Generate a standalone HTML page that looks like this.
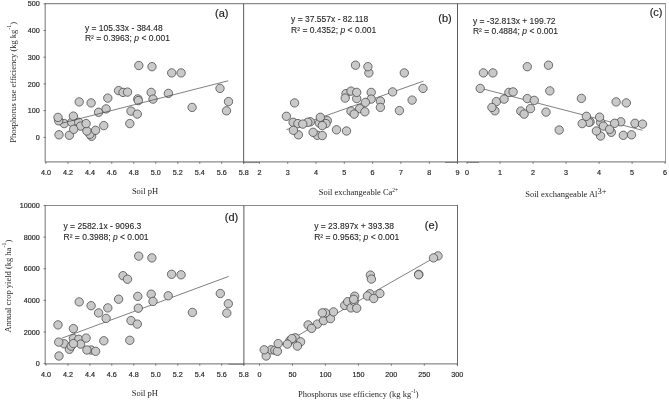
<!DOCTYPE html>
<html><head><meta charset="utf-8"><title>Figure</title>
<style>html,body{margin:0;padding:0;background:#fff;}svg{display:block;transform:translateZ(0);will-change:transform;}text{font-family:"Liberation Sans",sans-serif;fill:#262626;}.s{font-family:"Liberation Serif",serif;font-size:8.5px;}.t{font-size:7.2px;stroke:#262626;stroke-width:0.18px;}.q{font-size:8.5px;stroke:#262626;stroke-width:0.1px;}.p{font-size:11px;stroke:#262626;stroke-width:0.2px;}.pt circle{fill:#c9c9c9;stroke:#3a3a3a;stroke-width:0.7;}</style></head><body>
<svg width="669" height="401" viewBox="0 0 669 401">
<rect x="0" y="0" width="669" height="401" fill="#ffffff"/>
<g class="pt"><circle cx="59.0" cy="134.8" r="4.2"/><circle cx="69.4" cy="135.3" r="4.2"/><circle cx="79.2" cy="101.9" r="4.2"/><circle cx="91.1" cy="102.9" r="4.2"/><circle cx="98.6" cy="112.3" r="4.2"/><circle cx="103.8" cy="125.6" r="4.2"/><circle cx="106.1" cy="108.9" r="4.2"/><circle cx="107.8" cy="98.1" r="4.2"/><circle cx="129.8" cy="123.6" r="4.2"/><circle cx="131.0" cy="111.1" r="4.2"/><circle cx="137.3" cy="114.1" r="4.2"/><circle cx="138.8" cy="65.5" r="4.2"/><circle cx="152.0" cy="66.7" r="4.2"/><circle cx="171.7" cy="72.9" r="4.2"/><circle cx="181.1" cy="72.9" r="4.2"/><circle cx="168.4" cy="93.4" r="4.2"/><circle cx="220.0" cy="88.4" r="4.2"/><circle cx="192.1" cy="107.4" r="4.2"/><circle cx="228.5" cy="101.6" r="4.2"/><circle cx="226.5" cy="110.8" r="4.2"/><circle cx="64.2" cy="123.6" r="4.2"/><circle cx="58.7" cy="120.8" r="4.2"/><circle cx="58.0" cy="117.4" r="4.2"/><circle cx="71.7" cy="122.3" r="4.2"/><circle cx="73.4" cy="116.1" r="4.2"/><circle cx="78.7" cy="122.3" r="4.2"/><circle cx="80.6" cy="126.1" r="4.2"/><circle cx="73.7" cy="129.3" r="4.2"/><circle cx="91.6" cy="136.3" r="4.2"/><circle cx="89.9" cy="134.3" r="4.2"/><circle cx="86.9" cy="131.0" r="4.2"/><circle cx="86.1" cy="123.6" r="4.2"/><circle cx="95.6" cy="130.3" r="4.2"/><circle cx="118.6" cy="90.6" r="4.2"/><circle cx="123.0" cy="92.4" r="4.2"/><circle cx="127.5" cy="92.1" r="4.2"/><circle cx="137.8" cy="98.9" r="4.2"/><circle cx="138.3" cy="100.6" r="4.2"/><circle cx="151.2" cy="92.4" r="4.2"/><circle cx="153.0" cy="99.1" r="4.2"/></g>
<line x1="61.5" y1="123.3" x2="228.2" y2="80.8" stroke="#3c3c3c" stroke-width="0.65"/>
<line x1="286.4" y1="129.7" x2="423.5" y2="81.1" stroke="#3c3c3c" stroke-width="0.65"/>
<g class="pt"><circle cx="286.4" cy="116.3" r="4.2"/><circle cx="294.6" cy="102.9" r="4.2"/><circle cx="336.5" cy="129.8" r="4.2"/><circle cx="346.5" cy="131.0" r="4.2"/><circle cx="355.5" cy="65.2" r="4.2"/><circle cx="404.3" cy="72.9" r="4.2"/><circle cx="392.6" cy="91.9" r="4.2"/><circle cx="399.4" cy="110.6" r="4.2"/><circle cx="412.1" cy="100.1" r="4.2"/><circle cx="423.0" cy="88.4" r="4.2"/><circle cx="310.3" cy="121.8" r="4.2"/><circle cx="307.8" cy="122.3" r="4.2"/><circle cx="293.1" cy="122.3" r="4.2"/><circle cx="297.9" cy="123.6" r="4.2"/><circle cx="302.8" cy="124.1" r="4.2"/><circle cx="298.4" cy="134.8" r="4.2"/><circle cx="293.4" cy="130.3" r="4.2"/><circle cx="327.3" cy="120.6" r="4.2"/><circle cx="326.0" cy="123.6" r="4.2"/><circle cx="319.3" cy="123.1" r="4.2"/><circle cx="320.3" cy="117.3" r="4.2"/><circle cx="322.3" cy="125.6" r="4.2"/><circle cx="317.3" cy="135.3" r="4.2"/><circle cx="313.1" cy="132.3" r="4.2"/><circle cx="322.3" cy="135.5" r="4.2"/><circle cx="346.0" cy="93.6" r="4.2"/><circle cx="345.2" cy="98.1" r="4.2"/><circle cx="351.0" cy="91.1" r="4.2"/><circle cx="356.7" cy="98.6" r="4.2"/><circle cx="356.7" cy="92.4" r="4.2"/><circle cx="359.7" cy="108.6" r="4.2"/><circle cx="371.2" cy="92.4" r="4.2"/><circle cx="371.2" cy="99.1" r="4.2"/><circle cx="365.4" cy="102.4" r="4.2"/><circle cx="380.4" cy="101.1" r="4.2"/><circle cx="380.4" cy="107.4" r="4.2"/><circle cx="364.9" cy="111.8" r="4.2"/><circle cx="351.0" cy="111.1" r="4.2"/><circle cx="354.2" cy="114.1" r="4.2"/><circle cx="368.9" cy="72.9" r="4.2"/><circle cx="367.9" cy="66.7" r="4.2"/></g>
<line x1="480.2" y1="88.2" x2="642.5" y2="130.3" stroke="#3c3c3c" stroke-width="0.65"/>
<g class="pt"><circle cx="483.4" cy="72.9" r="4.2"/><circle cx="492.9" cy="72.9" r="4.2"/><circle cx="527.3" cy="66.7" r="4.2"/><circle cx="548.5" cy="65.2" r="4.2"/><circle cx="480.2" cy="88.4" r="4.2"/><circle cx="549.8" cy="90.9" r="4.2"/><circle cx="546.0" cy="112.1" r="4.2"/><circle cx="559.2" cy="130.0" r="4.2"/><circle cx="581.4" cy="98.4" r="4.2"/><circle cx="616.1" cy="101.9" r="4.2"/><circle cx="626.3" cy="102.9" r="4.2"/><circle cx="508.9" cy="92.4" r="4.2"/><circle cx="513.1" cy="91.9" r="4.2"/><circle cx="494.9" cy="110.8" r="4.2"/><circle cx="496.4" cy="101.6" r="4.2"/><circle cx="491.9" cy="107.4" r="4.2"/><circle cx="504.1" cy="99.1" r="4.2"/><circle cx="527.3" cy="98.6" r="4.2"/><circle cx="534.3" cy="100.4" r="4.2"/><circle cx="520.8" cy="111.1" r="4.2"/><circle cx="524.1" cy="114.1" r="4.2"/><circle cx="530.5" cy="108.6" r="4.2"/><circle cx="590.1" cy="121.8" r="4.2"/><circle cx="588.9" cy="122.3" r="4.2"/><circle cx="582.2" cy="123.6" r="4.2"/><circle cx="586.4" cy="116.3" r="4.2"/><circle cx="600.6" cy="122.3" r="4.2"/><circle cx="599.6" cy="117.1" r="4.2"/><circle cx="600.6" cy="136.0" r="4.2"/><circle cx="603.4" cy="126.1" r="4.2"/><circle cx="596.4" cy="131.0" r="4.2"/><circle cx="611.3" cy="132.3" r="4.2"/><circle cx="609.6" cy="129.3" r="4.2"/><circle cx="620.8" cy="121.8" r="4.2"/><circle cx="614.6" cy="123.3" r="4.2"/><circle cx="635.0" cy="123.3" r="4.2"/><circle cx="642.5" cy="124.1" r="4.2"/><circle cx="623.3" cy="135.3" r="4.2"/><circle cx="631.5" cy="134.8" r="4.2"/></g>
<line x1="61.5" y1="338.3" x2="228.7" y2="276.4" stroke="#3c3c3c" stroke-width="0.65"/>
<g class="pt"><circle cx="58.0" cy="324.9" r="4.2"/><circle cx="59.0" cy="356.0" r="4.2"/><circle cx="73.4" cy="328.6" r="4.2"/><circle cx="79.2" cy="301.9" r="4.2"/><circle cx="91.1" cy="305.7" r="4.2"/><circle cx="98.6" cy="312.9" r="4.2"/><circle cx="103.8" cy="340.8" r="4.2"/><circle cx="106.1" cy="318.4" r="4.2"/><circle cx="107.8" cy="307.9" r="4.2"/><circle cx="118.6" cy="299.2" r="4.2"/><circle cx="129.8" cy="340.3" r="4.2"/><circle cx="131.0" cy="320.6" r="4.2"/><circle cx="137.3" cy="324.1" r="4.2"/><circle cx="137.8" cy="296.4" r="4.2"/><circle cx="138.3" cy="308.2" r="4.2"/><circle cx="138.7" cy="256.1" r="4.2"/><circle cx="151.9" cy="257.9" r="4.2"/><circle cx="171.6" cy="274.3" r="4.2"/><circle cx="181.1" cy="274.8" r="4.2"/><circle cx="168.2" cy="295.8" r="4.2"/><circle cx="220.3" cy="293.5" r="4.2"/><circle cx="228.3" cy="303.7" r="4.2"/><circle cx="226.8" cy="313.1" r="4.2"/><circle cx="192.4" cy="312.4" r="4.2"/><circle cx="64.2" cy="343.8" r="4.2"/><circle cx="58.7" cy="342.1" r="4.2"/><circle cx="69.4" cy="349.3" r="4.2"/><circle cx="71.2" cy="346.1" r="4.2"/><circle cx="73.4" cy="338.6" r="4.2"/><circle cx="78.7" cy="339.3" r="4.2"/><circle cx="80.6" cy="344.1" r="4.2"/><circle cx="73.4" cy="343.6" r="4.2"/><circle cx="86.1" cy="338.1" r="4.2"/><circle cx="91.1" cy="350.0" r="4.2"/><circle cx="86.9" cy="350.0" r="4.2"/><circle cx="95.6" cy="351.3" r="4.2"/><circle cx="123.0" cy="275.7" r="4.2"/><circle cx="127.5" cy="279.2" r="4.2"/><circle cx="151.2" cy="294.2" r="4.2"/><circle cx="153.0" cy="301.4" r="4.2"/></g>
<line x1="262.8" y1="355.5" x2="436.2" y2="256.6" stroke="#3c3c3c" stroke-width="0.65"/>
<g class="pt"><circle cx="317.3" cy="324.1" r="4.2"/><circle cx="323.5" cy="320.6" r="4.2"/><circle cx="330.5" cy="318.6" r="4.2"/><circle cx="333.5" cy="311.9" r="4.2"/><circle cx="344.7" cy="305.4" r="4.2"/><circle cx="347.7" cy="301.7" r="4.2"/><circle cx="351.0" cy="307.9" r="4.2"/><circle cx="354.2" cy="301.4" r="4.2"/><circle cx="354.7" cy="296.2" r="4.2"/><circle cx="356.7" cy="308.2" r="4.2"/><circle cx="418.8" cy="274.3" r="4.2"/><circle cx="418.6" cy="274.8" r="4.2"/><circle cx="370.4" cy="275.1" r="4.2"/><circle cx="371.4" cy="279.1" r="4.2"/><circle cx="379.9" cy="293.5" r="4.2"/><circle cx="369.9" cy="293.8" r="4.2"/><circle cx="367.4" cy="296.0" r="4.2"/><circle cx="373.7" cy="298.5" r="4.2"/><circle cx="353.7" cy="299.3" r="4.2"/><circle cx="266.2" cy="356.0" r="4.2"/><circle cx="271.2" cy="349.8" r="4.2"/><circle cx="264.2" cy="349.8" r="4.2"/><circle cx="274.9" cy="350.3" r="4.2"/><circle cx="277.4" cy="351.3" r="4.2"/><circle cx="278.2" cy="343.6" r="4.2"/><circle cx="289.9" cy="340.6" r="4.2"/><circle cx="295.4" cy="337.8" r="4.2"/><circle cx="291.9" cy="338.6" r="4.2"/><circle cx="287.4" cy="344.1" r="4.2"/><circle cx="300.6" cy="341.8" r="4.2"/><circle cx="297.4" cy="346.1" r="4.2"/><circle cx="308.1" cy="324.9" r="4.2"/><circle cx="311.6" cy="328.4" r="4.2"/><circle cx="438.0" cy="255.9" r="4.2"/><circle cx="433.5" cy="257.9" r="4.2"/><circle cx="325.5" cy="312.9" r="4.2"/><circle cx="322.3" cy="312.9" r="4.2"/></g>
<g fill="none" stroke="#8a8a8a" stroke-width="1.2">
<path d="M665.7 3.6H45.2V161.9H665.7"/>
<path d="M457.4 205.5H45.2V363.8H457.4"/>
</g>
<line x1="665.5" y1="3.0" x2="665.5" y2="162.5" stroke="#909090" stroke-width="0.9"/>
<line x1="457.5" y1="204.9" x2="457.5" y2="365.7" stroke="#686868" stroke-width="1"/>
<g stroke="#5a5a5a" stroke-width="1">
<line x1="243.65" y1="3.6" x2="243.65" y2="163.4"/>
<line x1="457.5" y1="3.6" x2="457.5" y2="163.4"/>
<line x1="243.9" y1="205.5" x2="243.9" y2="365.3"/>
</g><g stroke="#4a4a4a" stroke-width="0.55">
<line x1="243.7" y1="162.6" x2="259.4" y2="162.6"/>
<line x1="445" y1="162.5" x2="457.5" y2="162.5"/>
<line x1="467.2" y1="162.5" x2="479" y2="162.5"/>
<line x1="228.5" y1="364.3" x2="243.8" y2="364.3"/>
</g>
<path d="M45.8 3.8h-2.2M45.8 30.5h-2.2M45.8 57.2h-2.2M45.8 83.9h-2.2M45.8 110.6h-2.2M45.8 137.4h-2.2M45.8 205.5h-2.2M45.8 237.1h-2.2M45.8 268.7h-2.2M45.8 300.4h-2.2M45.8 332.0h-2.2M45.8 363.6h-2.2M45.9 161.9v1.9M67.9 161.9v1.9M89.9 161.9v1.9M111.8 161.9v1.9M133.8 161.9v1.9M155.8 161.9v1.9M177.8 161.9v1.9M199.8 161.9v1.9M221.7 161.9v1.9M243.7 161.9v1.9M259.4 161.9v1.9M287.7 161.9v1.9M316.0 161.9v1.9M344.3 161.9v1.9M372.6 161.9v1.9M400.9 161.9v1.9M429.3 161.9v1.9M457.6 161.9v1.9M467.1 161.9v1.9M500.1 161.9v1.9M533.1 161.9v1.9M566.1 161.9v1.9M599.1 161.9v1.9M632.1 161.9v1.9M665.1 161.9v1.9M45.9 363.8v1.9M67.9 363.8v1.9M89.9 363.8v1.9M111.8 363.8v1.9M133.8 363.8v1.9M155.8 363.8v1.9M177.8 363.8v1.9M199.8 363.8v1.9M221.7 363.8v1.9M243.7 363.8v1.9M259.5 363.8v1.9M292.5 363.8v1.9M325.4 363.8v1.9M358.4 363.8v1.9M391.3 363.8v1.9M424.3 363.8v1.9M457.3 363.8v1.9" fill="none" stroke="#606060" stroke-width="0.85"/>
<g class="t" text-anchor="end">
<text x="39.8" y="6.4">500</text>
<text x="39.8" y="33.1">400</text>
<text x="39.8" y="59.8">300</text>
<text x="39.8" y="86.5">200</text>
<text x="39.8" y="113.2">100</text>
<text x="39.8" y="140.0">0</text>
<text x="39.8" y="208.1">10000</text>
<text x="39.8" y="239.7">8000</text>
<text x="39.8" y="271.3">6000</text>
<text x="39.8" y="303.0">4000</text>
<text x="39.8" y="334.6">2000</text>
<text x="39.8" y="366.2">0</text>
</g>
<g class="t" text-anchor="middle">
<text x="45.9" y="174.5">4.0</text>
<text x="67.9" y="174.5">4.2</text>
<text x="89.9" y="174.5">4.4</text>
<text x="111.8" y="174.5">4.6</text>
<text x="133.8" y="174.5">4.8</text>
<text x="155.8" y="174.5">5.0</text>
<text x="177.8" y="174.5">5.2</text>
<text x="199.8" y="174.5">5.4</text>
<text x="221.7" y="174.5">5.6</text>
<text x="243.7" y="174.5">5.8</text>
<text x="259.4" y="174.5">2</text>
<text x="287.7" y="174.5">3</text>
<text x="316.0" y="174.5">4</text>
<text x="344.3" y="174.5">5</text>
<text x="372.6" y="174.5">6</text>
<text x="400.9" y="174.5">7</text>
<text x="429.3" y="174.5">8</text>
<text x="457.5" y="174.5">9</text>
<text x="467.1" y="174.5">0</text>
<text x="500.1" y="174.5">1</text>
<text x="533.1" y="174.5">2</text>
<text x="566.1" y="174.5">3</text>
<text x="599.1" y="174.5">4</text>
<text x="632.1" y="174.5">5</text>
<text x="665.1" y="174.5">6</text>
<text x="45.9" y="376.6">4.0</text>
<text x="67.9" y="376.6">4.2</text>
<text x="89.9" y="376.6">4.4</text>
<text x="111.8" y="376.6">4.6</text>
<text x="133.8" y="376.6">4.8</text>
<text x="155.8" y="376.6">5.0</text>
<text x="177.8" y="376.6">5.2</text>
<text x="199.8" y="376.6">5.4</text>
<text x="221.7" y="376.6">5.6</text>
<text x="243.7" y="376.6">5.8</text>
<text x="259.5" y="376.6">0</text>
<text x="292.5" y="376.6">50</text>
<text x="325.4" y="376.6">100</text>
<text x="358.4" y="376.6">150</text>
<text x="391.3" y="376.6">200</text>
<text x="424.3" y="376.6">250</text>
<text x="457.3" y="376.6">300</text>
</g>
<text class="q" x="84.9" y="31.0">y = 105.33x - 384.48</text>
<text class="q" x="84.9" y="41.4">R² = 0.3963; <tspan font-style="italic">p</tspan> &lt; 0.001</text>
<text class="q" x="291.1" y="22.1">y = 37.557x - 82.118</text>
<text class="q" x="291.1" y="33.1">R² = 0.4352; <tspan font-style="italic">p</tspan> &lt; 0.001</text>
<text class="q" x="472.9" y="23.7">y = -32.813x + 199.72</text>
<text class="q" x="472.9" y="34.4">R² = 0.4884; <tspan font-style="italic">p</tspan> &lt; 0.001</text>
<text class="q" x="63.5" y="228.9">y = 2582.1x - 9096.3</text>
<text class="q" x="63.5" y="240.0">R² = 0.3988; <tspan font-style="italic">p</tspan> &lt; 0.001</text>
<text class="q" x="314.2" y="228.9">y = 23.897x + 393.38</text>
<text class="q" x="314.2" y="239.7">R² = 0.9563; <tspan font-style="italic">p</tspan> &lt; 0.001</text>
<text class="p" x="215.0" y="17.1">(a)</text>
<text class="p" x="438.3" y="21.5">(b)</text>
<text class="p" x="649.7" y="16.0">(c)</text>
<text class="p" x="224.8" y="221.0">(d)</text>
<text class="p" x="424.8" y="228.5">(e)</text>
<text class="s" x="145" y="194.0" text-anchor="middle">Soil pH</text>
<text class="s" x="318.7" y="194.7">Soil exchangeable Ca<tspan font-size="5.5px" dy="-3.0">2+</tspan></text>
<text class="s" x="525.2" y="197.2">Soil exchangeable Al<tspan font-size="8.5px" dy="-3.5">3+</tspan></text>
<text class="s" x="144.8" y="395.7" text-anchor="middle">Soil pH</text>
<text class="s" x="298" y="396.8">Phosphorus use efficiency (kg kg<tspan font-size="5.5px" dy="-4">-1</tspan><tspan dy="4">)</tspan></text>
<text class="s" transform="translate(15.9,142.8) rotate(-90)">Phosphorus use efficiency (kg kg<tspan font-size="6px" dy="-5">-1</tspan><tspan dy="5">)</tspan></text>
<text class="s" transform="translate(10.7,332.6) rotate(-90)">Annual crop yield (kg ha<tspan font-size="6px" dy="-5">-1</tspan><tspan dy="5">)</tspan></text>
</svg></body></html>
